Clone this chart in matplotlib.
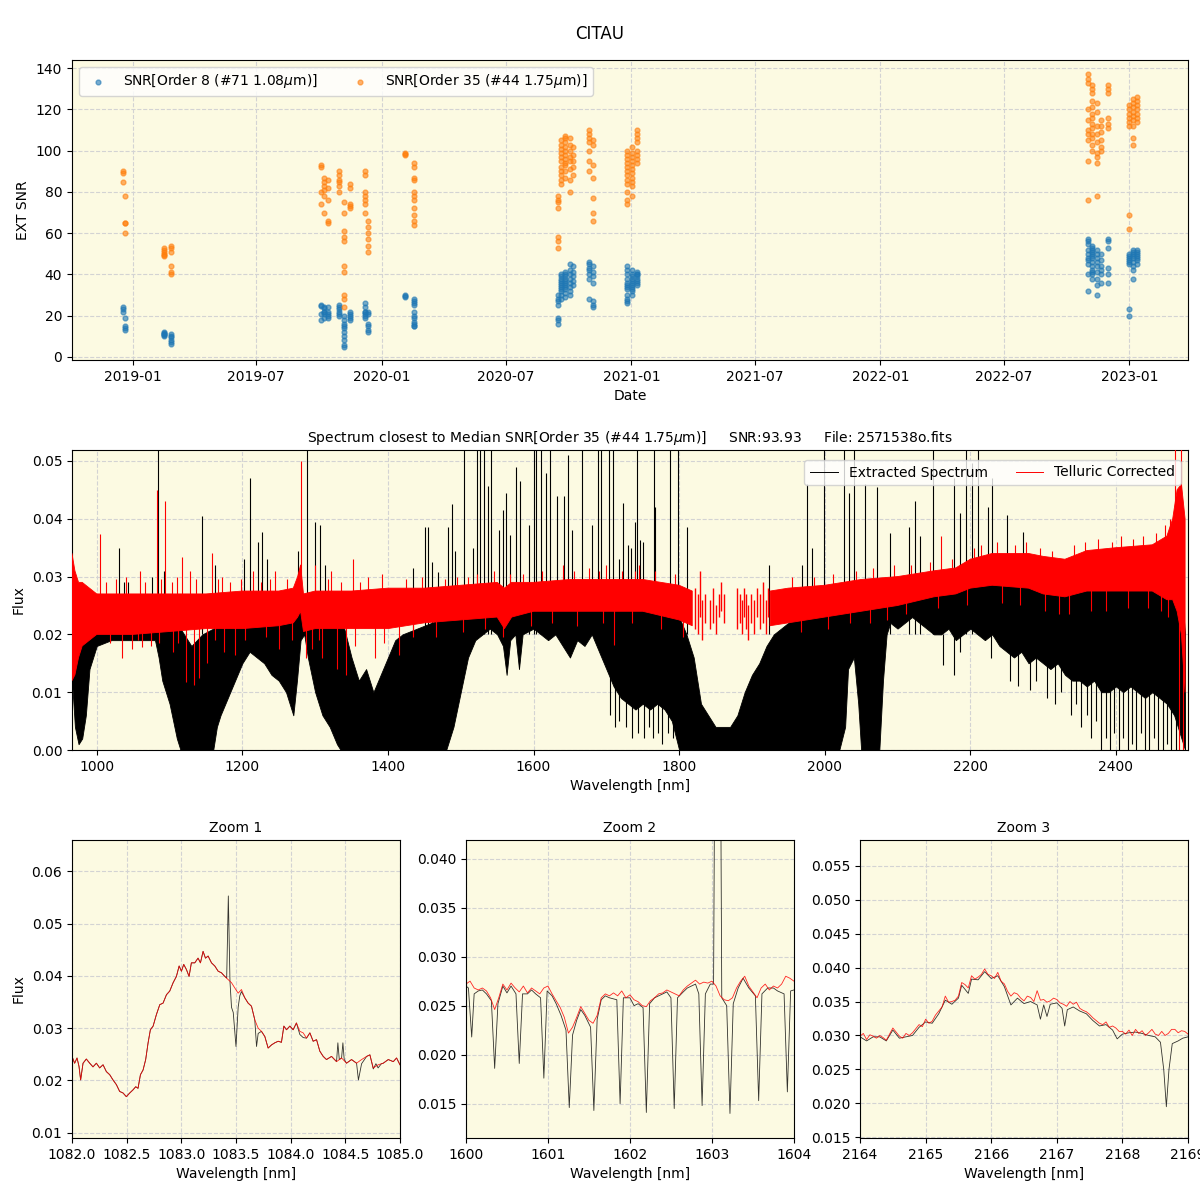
import numpy as np
import matplotlib
matplotlib.use("Agg")
import matplotlib.pyplot as plt
import matplotlib.dates as mdates
from matplotlib.lines import Line2D

nan = np.nan

# ---- SNR history (per night: several exposures) ----
nights = ['2018-12-18', '2018-12-20', '2019-02-16', '2019-02-26', '2019-10-04', '2019-10-09',
          '2019-10-15', '2019-10-30', '2019-11-07', '2019-11-15', '2019-12-07', '2019-12-12',
          '2020-02-04', '2020-02-17', '2020-09-15', '2020-09-20', '2020-09-26', '2020-10-03',
          '2020-10-08', '2020-10-31', '2020-11-06', '2020-12-26', '2021-01-02', '2021-01-09',
          '2022-11-01', '2022-11-08', '2022-11-15', '2022-11-20', '2022-12-01', '2022-12-31',
          '2023-01-06', '2023-01-12']
snr_order8 = [[24, 23, 22], [19, 15, 14, 13], [12, 11.5, 11, 10.5, 11, 10], [11, 10, 9.5, 8, 7, 6.5],
              [25, 24.5, 21, 18], [24, 23.5, 22, 22, 21, 19], [24, 22, 20, 21, 19],
              [25, 24, 23, 22, 21, 20], [20, 18, 16, 15, 14, 12, 10, 8, 6, 5], [22, 21, 20, 19, 18],
              [26, 24, 22, 21, 22, 20, 19], [16, 15, 13, 12, 22, 21], [30, 29.5, 29],
              [28, 27, 26, 25, 22, 20, 19, 17, 16, 15, 15], [30, 28, 27, 25, 18, 19, 16],
              [40, 39, 38, 37, 36, 35, 34, 33, 32, 30, 28], [41, 40, 39, 38, 37, 36, 35, 34, 33, 31, 29],
              [45, 42, 40, 38, 36, 34, 32, 30], [44, 41, 39, 37, 35], [46, 45, 43, 42, 40, 38, 28],
              [44, 41, 39, 36, 27, 25, 24], [44, 42, 40, 38, 36, 35, 34, 33, 30, 28, 27, 26],
              [42, 40, 39, 38, 37, 36, 35, 34, 33, 32, 30], [41, 40, 40, 39, 38, 37, 36, 35],
              [57, 56, 55, 52, 50, 48, 47, 45, 40, 32], [54, 53, 52, 51, 50, 49, 48, 46, 44, 42, 41, 40, 38],
              [52, 50, 48, 46, 44, 41, 38, 35, 30], [50, 47, 44, 42, 40, 36], [57, 56, 53, 43, 40, 36],
              [50, 49, 48, 47, 46, 45, 23, 20], [52, 51, 50, 49, 48, 46, 44, 42, 38],
              [52, 51, 50, 49, 48, 47, 45]]
snr_order35 = [[90, 89, 85], [78, 65, 65, 60], [53, 52, 51, 50, 49.5, 49], [54, 53, 51, 44, 41, 40],
               [93, 92, 80, 74], [87, 85, 83, 81, 78, 70], [86, 82, 76, 66, 65],
               [90, 88, 86, 85, 83, 80], [75, 70, 61, 58, 56, 44, 41, 30, 28, 24], [84, 82, 74, 73, 72],
               [90, 88, 80, 78, 76, 74, 70], [66, 63, 60, 57, 54, 51], [99, 98.5, 98],
               [94, 92, 87, 86, 80, 78, 76, 72, 69, 66, 64], [78, 76, 75, 72, 58, 56, 53],
               [105, 103, 101, 99, 97, 95, 92, 90, 88, 86, 84], [107, 106, 104, 102, 100, 98, 96, 94, 93, 90, 87],
               [106, 103, 100, 97, 95, 91, 86, 80], [102, 98, 95, 92, 88], [110, 108, 106, 104, 100, 95, 90],
               [105, 103, 93, 87, 77, 70, 66], [100, 98, 96, 94, 92, 90, 88, 86, 84, 80, 76, 74],
               [102, 99, 97, 95, 93, 91, 89, 87, 85, 83, 78], [110, 108, 106, 104, 100, 98, 96, 94],
               [137, 135, 133, 120, 115, 110, 108, 105, 95, 76],
               [132, 130, 128, 124, 121, 118, 116, 113, 111, 108, 106, 103, 100],
               [123, 119, 112, 108, 104, 99, 97, 94, 78], [115, 112, 109, 105, 102, 100],
               [132, 130, 128, 116, 113, 111], [122, 120, 118, 116, 114, 112, 69, 62],
               [125, 123, 121, 119, 117, 115, 112, 106, 103], [126, 124, 122, 120, 118, 116, 114]]

# ---- full spectrum, extracted (black): (wavelength nm, low, high) ----
blk_env = [(966, .012, .030), (970, .004, .026), (975, .001, .024), (980, .002, .023), (985, .006, .023),
           (990, .014, .024), (1000, .018, .024), (1020, .019, .025), (1050, .019, .025), (1080, .019, .025),
           (1085, .016, .024), (1090, .012, .024), (1095, .010, .023), (1100, .008, .023), (1105, .005, .022),
           (1110, .002, .022), (1115, 0, .021), (1130, 0, .018), (1145, 0, .020), (1160, 0, .021),
           (1165, .004, .022), (1170, .006, .022), (1180, .009, .023), (1190, .012, .023), (1200, .015, .024),
           (1210, .017, .024), (1220, .016, .024), (1230, .015, .024), (1240, .013, .024), (1250, .012, .024),
           (1260, .010, .024), (1265, .008, .024), (1270, .006, .025), (1275, .012, .026), (1280, .019, .027),
           (1285, .020, .025), (1290, .016, .025), (1300, .010, .024), (1310, .006, .024), (1320, .004, .023),
           (1330, .001, .022), (1335, 0, .022), (1340, 0, .021), (1350, 0, .016), (1360, 0, .012),
           (1370, 0, .014), (1380, 0, .010), (1390, 0, .013), (1400, 0, .016), (1410, 0, .019),
           (1420, 0, .020), (1440, 0, .021), (1460, 0, .022), (1480, 0, .023), (1490, .004, .024),
           (1500, .010, .024), (1510, .016, .025), (1520, .019, .025), (1530, .020, .026), (1540, .021, .026),
           (1550, .020, .026), (1558, .018, .025), (1563, .013, .025), (1568, .019, .026), (1575, .020, .026),
           (1580, .014, .026), (1585, .020, .026), (1600, .021, .026), (1610, .020, .027), (1620, .019, .027),
           (1630, .020, .027), (1640, .018, .027), (1650, .016, .027), (1660, .019, .027), (1670, .018, .027),
           (1680, .020, .027), (1690, .017, .027), (1700, .014, .027), (1710, .011, .026), (1720, .009, .026),
           (1730, .008, .026), (1740, .007, .026), (1750, .008, .025), (1760, .007, .025), (1770, .008, .025),
           (1780, .007, .024), (1790, .005, .024), (1800, 0, .023), (1810, 0, .020), (1820, 0, .016),
           (1830, 0, .008), (1850, 0, .004), (1870, 0, .004), (1880, 0, .006), (1890, 0, .010),
           (1900, 0, .013), (1910, 0, .015), (1920, 0, .018), (1930, 0, .020), (1940, 0, .021),
           (1950, 0, .022), (1960, 0, .023), (1970, 0, .024), (1980, 0, .024), (1990, 0, .024),
           (2000, 0, .025), (2010, 0, .025), (2020, 0, .025), (2028, .004, .025), (2032, .014, .025),
           (2040, .016, .026), (2046, .008, .026), (2050, 0, .026), (2060, 0, .026), (2070, 0, .026),
           (2075, 0, .026), (2080, .012, .026), (2085, .020, .026), (2090, .022, .027), (2100, .021, .027),
           (2110, .022, .027), (2120, .023, .028), (2130, .022, .028), (2140, .021, .028), (2150, .020, .028),
           (2160, .020, .028), (2170, .021, .029), (2180, .019, .029), (2190, .020, .030), (2200, .021, .030),
           (2210, .020, .031), (2220, .019, .031), (2230, .020, .031), (2240, .018, .031), (2250, .017, .031),
           (2260, .016, .031), (2270, .017, .031), (2280, .015, .031), (2290, .016, .031), (2300, .015, .031),
           (2310, .014, .030), (2320, .015, .030), (2330, .013, .029), (2340, .012, .030), (2350, .012, .030),
           (2360, .011, .030), (2370, .012, .030), (2380, .010, .030), (2390, .010, .030), (2400, .011, .030),
           (2410, .010, .030), (2420, .011, .030), (2430, .010, .030), (2440, .009, .030), (2450, .010, .030),
           (2460, .009, .030), (2470, .008, .030), (2480, .006, .030), (2490, .002, .028), (2495, 0, .020)]

# ---- full spectrum, telluric corrected (red): (wavelength nm, low, high) ----
red_env = [(966, .012, .034), (970, .013, .031), (975, .016, .029), (980, .018, .029), (990, .019, .028),
           (1000, .020, .027), (1050, .020, .027), (1100, .0205, .027), (1150, .021, .027),
           (1200, .021, .0275), (1250, .0215, .0275), (1270, .022, .028), (1276, .023, .030),
           (1280, .024, .032), (1284, .0205, .027), (1300, .021, .0275), (1350, .021, .0275),
           (1400, .021, .028), (1450, .022, .028), (1500, .0225, .0285), (1550, .023, .029),
           (1560, .021, .028), (1570, .023, .029), (1600, .024, .029), (1650, .024, .0295),
           (1700, .024, .0295), (1750, .024, .0295), (1800, .0225, .0285), (1818, .0215, .0275),
           (1819, nan, nan), (1924, nan, nan),
           (1925, .0215, .0275), (1950, .022, .028), (2000, .023, .0285), (2050, .024, .0295),
           (2100, .025, .030), (2150, .0265, .031), (2180, .027, .0315), (2200, .028, .033),
           (2230, .0285, .034), (2280, .028, .034), (2300, .027, .0335), (2330, .0265, .033),
           (2360, .0275, .0345), (2400, .0275, .035), (2450, .0275, .0355), (2470, .026, .037),
           (2478, .026, .040), (2484, .024, .045), (2490, .020, .046), (2495, .010, .040)]

# patchy red where the correction is sparse (wavelength, low, high)
red_patches = [(1822, .021, .028), (1826, .020, .027), (1829, .023, .031), (1832, .019, .026),
               (1836, .022, .027), (1843, .021, .026), (1847, .022, .028), (1850, .020, .025),
               (1855, .023, .027), (1858, .024, .029), (1862, .022, .027), (1880, .021, .028),
               (1883, .022, .027), (1886, .020, .026), (1889, .023, .028), (1892, .021, .027),
               (1895, .019, .025), (1899, .022, .027), (1903, .020, .026), (1907, .023, .028),
               (1911, .021, .027), (1915, .022, .029), (1919, .020, .026), (1922, .023, .028)]

# emission spikes and absorption dips of the extracted spectrum (wavelength, tip flux)
blk_spikes = [(1030, .035), (1037, .029), (1043, .029), (1076, .030), (1084, .060), (1092, .031),
              (1144, .0405), (1162, .032), (1202, .033), (1211, .047), (1222, .036), (1227, .0377),
              (1234, .033), (1277, .0344), (1289, .060), (1300, .0395), (1307, .039), (1314, .032),
              (1435, .0314), (1451, .0386), (1455, .0386), (1460, .0325), (1469, .0308), (1482, .0386),
              (1488, .0425), (1492, .0345), (1504, .060), (1517, .035), (1523, .060), (1527, .060),
              (1532, .060), (1538, .0456), (1542, .060), (1552, .038), (1558, .0415), (1562, .0444),
              (1568, .0372), (1576, .049), (1582, .0465), (1594, .039), (1600, .060), (1603, .060),
              (1610, .060), (1617, .048), (1622, .060), (1632, .044), (1642, .044), (1648, .051),
              (1653, .038), (1667, .060), (1680, .0389), (1688, .060), (1693, .060), (1704, .060),
              (1709, .060), (1717, .033), (1723, .0427), (1730, .0355), (1734, .035), (1740, .0395),
              (1742, .060), (1746, .0363), (1751, .036), (1765, .060), (1767, .042), (1788, .060),
              (1799, .060), (1811, .0386), (1924, .032), (1969, .032), (1976, .046), (1983, .035),
              (1999, .060), (2026, .060), (2033, .0444), (2040, .060), (2055, .046), (2072, .0455),
              (2089, .0375), (2116, .0386), (2124, .043), (2131, .037), (2149, .060), (2178, .047),
              (2186, .041), (2194, .060), (2202, .0497), (2211, .060), (2224, .042), (2230, .047),
              (2251, .0406), (2273, .0378)]
blk_dips = [(1705, .006), (1712, .004), (1718, .005), (1727, .004), (1735, .002), (1743, .003),
            (1752, .002), (1758, .004), (1764, .002), (1771, .003), (1777, .001), (1785, .003),
            (1792, .002), (2162, .0147), (2178, .013), (2186, .017), (2229, .016), (2255, .012),
            (2265, .011), (2282, .0104), (2290, .012), (2305, .009), (2316, .008), (2325, .010),
            (2338, .006), (2345, .008), (2352, .004), (2360, .006), (2366, .002), (2373, .005),
            (2380, 0), (2386, .002), (2392, 0), (2398, .003), (2404, 0), (2410, .002), (2416, 0),
            (2422, .001), (2428, 0), (2434, .003), (2440, 0), (2446, 0), (2452, .002), (2458, 0),
            (2464, 0), (2470, .001), (2476, 0), (2482, 0)]

# noise spikes / dips of the corrected spectrum (wavelength, from, to)
red_spikes = [(1005, .024, .0373), (1013, .024, .029), (1027, .024, .0295), (1040, .024, .030),
              (1060, .024, .031), (1066, .024, .029), (1083, .024, .045), (1088, .024, .0295),
              (1094, .024, .043), (1103, .024, .029), (1110, .024, .030), (1117, .024, .0334),
              (1128, .024, .031), (1136, .024, .0295), (1158, .024, .034), (1166, .024, .0295),
              (1172, .024, .030), (1183, .024, .029), (1198, .024, .0295), (1215, .024, .031),
              (1226, .024, .029), (1238, .024, .0295), (1245, .024, .031), (1262, .024, .0295),
              (1281, .026, .050), (1300, .025, .032), (1317, .025, .0295), (1322, .025, .031),
              (1336, .025, .029), (1352, .025, .033), (1362, .025, .029), (1372, .025, .030),
              (1392, .025, .0305), (1425, .025, .0295), (1447, .025, .030), (1478, .025, .0295),
              (1495, .025, .030), (1510, .026, .030), (1522, .026, .0305), (1545, .026, .031),
              (1567, .026, .0305), (1585, .026, .0305), (1612, .026, .031), (1640, .026, .032),
              (1655, .026, .031), (1676, .026, .0315), (1690, .026, .031), (1700, .026, .032),
              (1722, .026, .031), (1740, .026, .031), (1745, .026, .032), (1767, .026, .031),
              (1795, .026, .0305), (1955, .025, .030), (1985, .026, .030), (2012, .026, .0305),
              (2043, .027, .031), (2066, .027, .0315), (2095, .027, .032), (2118, .028, .032),
              (2145, .029, .0325), (2160, .029, .037), (2175, .029, .033), (2205, .031, .035),
              (2215, .031, .0355), (2236, .031, .036), (2262, .031, .0355), (2277, .031, .036),
              (2296, .031, .035), (2312, .030, .0345), (2342, .031, .0355), (2357, .031, .036),
              (2376, .031, .0365), (2394, .031, .036), (2407, .031, .037), (2423, .031, .0365),
              (2437, .031, .037), (2455, .031, .0375), (2468, .031, .039), (2474, .031, .040),
              (2481, .030, .060), (2489, .030, .060)]
red_dips = [(1018, .0185, .024), (1035, .016, .024), (1048, .0175, .024), (1056, .019, .024),
            (1062, .0178, .024), (1075, .018, .024), (1086, .0185, .024), (1105, .017, .024),
            (1112, .0185, .024), (1122, .0118, .024), (1134, .0113, .024), (1140, .0125, .024),
            (1152, .015, .024), (1163, .019, .024), (1175, .017, .024), (1190, .0165, .024),
            (1203, .019, .024), (1232, .0195, .024), (1250, .0175, .024), (1268, .019, .024),
            (1288, .016, .024), (1296, .0175, .024), (1305, .019, .024), (1310, .016, .024),
            (1330, .014, .024), (1342, .013, .024), (1355, .018, .024), (1382, .0159, .024),
            (1395, .0185, .024), (1415, .0164, .025), (1435, .0195, .025), (1466, .0195, .025),
            (1503, .0205, .026), (1533, .021, .026), (1558, .0195, .026), (1596, .0215, .026),
            (1625, .022, .027), (1660, .0215, .027), (1695, .022, .027), (1710, .0182, .027),
            (1735, .022, .027), (1775, .021, .027), (1805, .0195, .026), (1968, .0205, .025),
            (2005, .021, .026), (2035, .022, .027), (2062, .022, .027), (2085, .0225, .027),
            (2112, .0235, .028), (2156, .0245, .029), (2196, .025, .030), (2244, .0255, .031),
            (2268, .025, .031), (2302, .024, .030), (2322, .0235, .030), (2335, .0235, .030),
            (2366, .024, .031), (2386, .024, .031), (2416, .0245, .031), (2444, .0245, .031),
            (2462, .024, .031), (2472, .023, .031), (2486, 0, .030), (2492, 0, .030)]

# ---- zoom windows ----
z1_red_wl = [1082.000, 1082.024, 1082.046, 1082.064, 1082.079, 1082.101, 1082.131, 1082.162, 1082.192,
             1082.223, 1082.253, 1082.284, 1082.314, 1082.345, 1082.375, 1082.406, 1082.436, 1082.467,
             1082.497, 1082.528, 1082.558, 1082.583, 1082.604, 1082.626, 1082.650, 1082.674, 1082.696,
             1082.717, 1082.742, 1082.772, 1082.803, 1082.833, 1082.864, 1082.894, 1082.925, 1082.955,
             1082.980, 1083.001, 1083.022, 1083.047, 1083.071, 1083.092, 1083.123, 1083.153, 1083.175,
             1083.199, 1083.221, 1083.245, 1083.276, 1083.306, 1083.337, 1083.367, 1083.398, 1083.428,
             1083.459, 1083.489, 1083.520, 1083.550, 1083.581, 1083.611, 1083.642, 1083.672, 1083.703,
             1083.733, 1083.764, 1083.794, 1083.825, 1083.855, 1083.886, 1083.916, 1083.938, 1083.962,
             1083.993, 1084.023, 1084.053, 1084.084, 1084.115, 1084.145, 1084.176, 1084.206, 1084.237,
             1084.267, 1084.298, 1084.328, 1084.374, 1084.420, 1084.466, 1084.511, 1084.557, 1084.603,
             1084.649, 1084.695, 1084.725, 1084.756, 1084.801, 1084.847, 1084.893, 1084.939, 1084.969,
             1085.000]
z1_red_fl = [0.0246, 0.0233, 0.0243, 0.0227, 0.0201, 0.0233, 0.0241, 0.0233, 0.0226,
             0.0233, 0.0224, 0.0230, 0.0217, 0.0211, 0.0201, 0.0192, 0.0179, 0.0176,
             0.0169, 0.0176, 0.0182, 0.0188, 0.0185, 0.0211, 0.0220, 0.0240, 0.0272,
             0.0297, 0.0304, 0.0326, 0.0345, 0.0348, 0.0364, 0.0371, 0.0387, 0.0399,
             0.0419, 0.0409, 0.0422, 0.0412, 0.0399, 0.0425, 0.0425, 0.0434, 0.0425,
             0.0447, 0.0434, 0.0438, 0.0425, 0.0419, 0.0409, 0.0406, 0.0399, 0.0393,
             0.0387, 0.0377, 0.0367, 0.0374, 0.0358, 0.0348, 0.0342, 0.0316, 0.0300,
             0.0294, 0.0284, 0.0262, 0.0268, 0.0272, 0.0275, 0.0273, 0.0304, 0.0297,
             0.0304, 0.0297, 0.0310, 0.0294, 0.0291, 0.0281, 0.0291, 0.0275, 0.0278,
             0.0256, 0.0246, 0.0240, 0.0246, 0.0236, 0.0243, 0.0233, 0.0240, 0.0233,
             0.0240, 0.0246, 0.0249, 0.0224, 0.0230, 0.0233, 0.0240, 0.0236, 0.0243,
             0.0230]
z1_blk_wl = [1082.000, 1082.024, 1082.046, 1082.064, 1082.079, 1082.101, 1082.131, 1082.162, 1082.192,
             1082.223, 1082.253, 1082.284, 1082.314, 1082.345, 1082.375, 1082.406, 1082.436, 1082.467,
             1082.497, 1082.528, 1082.558, 1082.583, 1082.604, 1082.626, 1082.650, 1082.674, 1082.696,
             1082.717, 1082.742, 1082.772, 1082.803, 1082.833, 1082.864, 1082.894, 1082.925, 1082.955,
             1082.980, 1083.001, 1083.022, 1083.047, 1083.071, 1083.092, 1083.123, 1083.153, 1083.175,
             1083.199, 1083.221, 1083.245, 1083.276, 1083.306, 1083.337, 1083.367, 1083.398, 1083.415,
             1083.430, 1083.445, 1083.459, 1083.475, 1083.500, 1083.520, 1083.535, 1083.550, 1083.581,
             1083.611, 1083.642, 1083.672, 1083.688, 1083.703, 1083.733, 1083.764, 1083.794, 1083.825,
             1083.855, 1083.886, 1083.916, 1083.938, 1083.962, 1083.993, 1084.023, 1084.053, 1084.084,
             1084.115, 1084.145, 1084.176, 1084.206, 1084.237, 1084.267, 1084.298, 1084.328, 1084.374,
             1084.420, 1084.432, 1084.445, 1084.466, 1084.478, 1084.490, 1084.511, 1084.557, 1084.603,
             1084.620, 1084.649, 1084.695, 1084.725, 1084.756, 1084.780, 1084.800, 1084.830, 1084.847,
             1084.893, 1084.939, 1084.969, 1085.000]
z1_blk_fl = [0.0246, 0.0233, 0.0243, 0.0227, 0.0201, 0.0233, 0.0241, 0.0233, 0.0226,
             0.0233, 0.0224, 0.0230, 0.0217, 0.0211, 0.0201, 0.0192, 0.0179, 0.0176,
             0.0169, 0.0176, 0.0182, 0.0188, 0.0185, 0.0211, 0.0220, 0.0240, 0.0272,
             0.0297, 0.0304, 0.0326, 0.0345, 0.0348, 0.0364, 0.0371, 0.0387, 0.0399,
             0.0419, 0.0409, 0.0422, 0.0412, 0.0399, 0.0425, 0.0425, 0.0434, 0.0425,
             0.0447, 0.0434, 0.0438, 0.0425, 0.0419, 0.0409, 0.0406, 0.0399, 0.0396,
             0.0553, 0.0390, 0.0340, 0.0330, 0.0265, 0.0340, 0.0362, 0.0370, 0.0358,
             0.0348, 0.0342, 0.0316, 0.0265, 0.0290, 0.0294, 0.0284, 0.0262, 0.0268,
             0.0272, 0.0275, 0.0273, 0.0304, 0.0297, 0.0304, 0.0297, 0.0310, 0.0288,
             0.0282, 0.0281, 0.0291, 0.0275, 0.0278, 0.0256, 0.0246, 0.0240, 0.0246,
             0.0236, 0.0272, 0.0240, 0.0243, 0.0272, 0.0240, 0.0233, 0.0240, 0.0233,
             0.0201, 0.0232, 0.0246, 0.0249, 0.0222, 0.0232, 0.0224, 0.0232, 0.0233,
             0.0240, 0.0236, 0.0243, 0.0230]

z2_red_wl = [1600.00, 1600.05, 1600.10, 1600.15, 1600.20, 1600.25, 1600.30, 1600.35, 1600.40, 1600.45,
             1600.50, 1600.55, 1600.60, 1600.65, 1600.70, 1600.75, 1600.80, 1600.85, 1600.90, 1600.95,
             1601.00, 1601.05, 1601.10, 1601.15, 1601.20, 1601.25, 1601.30, 1601.35, 1601.40, 1601.45,
             1601.50, 1601.55, 1601.60, 1601.65, 1601.70, 1601.75, 1601.80, 1601.85, 1601.90, 1601.95,
             1602.00, 1602.05, 1602.10, 1602.15, 1602.20, 1602.25, 1602.30, 1602.35, 1602.40, 1602.45,
             1602.50, 1602.55, 1602.60, 1602.65, 1602.70, 1602.75, 1602.80, 1602.85, 1602.90, 1602.95,
             1603.00, 1603.05, 1603.10, 1603.15, 1603.20, 1603.25, 1603.30, 1603.35, 1603.40, 1603.45,
             1603.50, 1603.55, 1603.60, 1603.65, 1603.70, 1603.75, 1603.80, 1603.85, 1603.90, 1603.95,
             1604.00]
z2_red_fl = [0.0272, 0.0275, 0.0268, 0.0266, 0.0268, 0.0265, 0.0258, 0.0246, 0.0258, 0.0272,
             0.0266, 0.0273, 0.0268, 0.0264, 0.0270, 0.0263, 0.0268, 0.0265, 0.0262, 0.0268,
             0.0270, 0.0262, 0.0255, 0.0248, 0.0238, 0.0222, 0.0228, 0.0238, 0.0249, 0.0242,
             0.0235, 0.0232, 0.0240, 0.0258, 0.0262, 0.0260, 0.0263, 0.0260, 0.0265, 0.0258,
             0.0261, 0.0256, 0.0254, 0.0250, 0.0249, 0.0255, 0.0258, 0.0262, 0.0263, 0.0266,
             0.0264, 0.0262, 0.0260, 0.0266, 0.0270, 0.0273, 0.0276, 0.0272, 0.0274, 0.0273,
             0.0275, 0.0270, 0.0260, 0.0256, 0.0255, 0.0258, 0.0268, 0.0275, 0.0280, 0.0270,
             0.0264, 0.0258, 0.0268, 0.0272, 0.0266, 0.0270, 0.0268, 0.0272, 0.0280, 0.0278,
             0.0275]
z2_blk_wl = [1600.00, 1600.03, 1600.07, 1600.10, 1600.15, 1600.20, 1600.25, 1600.31, 1600.35, 1600.39,
             1600.45, 1600.50, 1600.55, 1600.61, 1600.65, 1600.69, 1600.75, 1600.80, 1600.85, 1600.91,
             1600.95, 1600.99, 1601.05, 1601.10, 1601.16, 1601.22, 1601.26, 1601.30, 1601.35, 1601.40,
             1601.45, 1601.52, 1601.56, 1601.60, 1601.65, 1601.70, 1601.75, 1601.84, 1601.88, 1601.92,
             1602.00, 1602.05, 1602.10, 1602.16, 1602.20, 1602.24, 1602.30, 1602.40, 1602.45, 1602.50,
             1602.54, 1602.58, 1602.65, 1602.70, 1602.80, 1602.84, 1602.88, 1602.92, 1602.98, 1603.02,
             1603.04, 1603.10, 1603.12, 1603.18, 1603.22, 1603.26, 1603.32, 1603.38, 1603.45, 1603.53,
             1603.57, 1603.61, 1603.68, 1603.75, 1603.80, 1603.88, 1603.92, 1603.96, 1604.00]
z2_blk_fl = [0.0270, 0.0268, 0.0218, 0.0262, 0.0265, 0.0266, 0.0262, 0.0255, 0.0186, 0.0252,
             0.0270, 0.0263, 0.0270, 0.0262, 0.0191, 0.0262, 0.0262, 0.0266, 0.0262, 0.0258,
             0.0176, 0.0265, 0.0260, 0.0252, 0.0240, 0.0225, 0.0146, 0.0220, 0.0235, 0.0246,
             0.0240, 0.0228, 0.0143, 0.0236, 0.0256, 0.0260, 0.0258, 0.0256, 0.0150, 0.0258,
             0.0258, 0.0250, 0.0252, 0.0248, 0.0141, 0.0252, 0.0258, 0.0262, 0.0264, 0.0258,
             0.0145, 0.0258, 0.0264, 0.0268, 0.0272, 0.0262, 0.0148, 0.0262, 0.0272, 0.0272,
             0.0600, 0.0600, 0.0258, 0.0250, 0.0140, 0.0252, 0.0268, 0.0278, 0.0268, 0.0260,
             0.0153, 0.0262, 0.0268, 0.0268, 0.0265, 0.0262, 0.0162, 0.0265, 0.0266]

z3_red_wl = [2164.00, 2164.05, 2164.10, 2164.15, 2164.20, 2164.25, 2164.30, 2164.35, 2164.40, 2164.45,
             2164.50, 2164.55, 2164.60, 2164.65, 2164.70, 2164.75, 2164.80, 2164.85, 2164.90, 2164.95,
             2165.00, 2165.05, 2165.10, 2165.15, 2165.20, 2165.25, 2165.30, 2165.35, 2165.40, 2165.45,
             2165.50, 2165.55, 2165.60, 2165.65, 2165.70, 2165.75, 2165.80, 2165.85, 2165.90, 2165.95,
             2166.00, 2166.05, 2166.10, 2166.15, 2166.20, 2166.25, 2166.30, 2166.35, 2166.40, 2166.45,
             2166.50, 2166.55, 2166.60, 2166.65, 2166.70, 2166.75, 2166.80, 2166.85, 2166.90, 2166.95,
             2167.00, 2167.05, 2167.10, 2167.15, 2167.20, 2167.25, 2167.30, 2167.35, 2167.40, 2167.45,
             2167.50, 2167.55, 2167.60, 2167.65, 2167.70, 2167.75, 2167.80, 2167.85, 2167.90, 2167.95,
             2168.00, 2168.05, 2168.10, 2168.15, 2168.20, 2168.25, 2168.30, 2168.35, 2168.40, 2168.45,
             2168.50, 2168.55, 2168.60, 2168.65, 2168.70, 2168.75, 2168.80, 2168.85, 2168.90, 2168.95,
             2169.00]
z3_red_fl = [0.0299, 0.0303, 0.0294, 0.0301, 0.0299, 0.0296, 0.0300, 0.0297, 0.0293, 0.0302,
             0.0311, 0.0305, 0.0299, 0.0296, 0.0303, 0.0300, 0.0304, 0.0310, 0.0316, 0.0313,
             0.0324, 0.0318, 0.0321, 0.0330, 0.0336, 0.0342, 0.0358, 0.0349, 0.0350, 0.0352,
             0.0358, 0.0378, 0.0375, 0.0370, 0.0388, 0.0383, 0.0386, 0.0390, 0.0398, 0.0390,
             0.0388, 0.0384, 0.0393, 0.0380, 0.0376, 0.0365, 0.0358, 0.0363, 0.0361, 0.0355,
             0.0351, 0.0358, 0.0356, 0.0350, 0.0366, 0.0352, 0.0353, 0.0349, 0.0351, 0.0355,
             0.0353, 0.0348, 0.0346, 0.0343, 0.0350, 0.0346, 0.0349, 0.0340, 0.0337, 0.0335,
             0.0331, 0.0326, 0.0322, 0.0318, 0.0316, 0.0320, 0.0312, 0.0314, 0.0311, 0.0306,
             0.0306, 0.0302, 0.0308, 0.0300, 0.0309, 0.0303, 0.0307, 0.0300, 0.0304, 0.0309,
             0.0302, 0.0300, 0.0306, 0.0300, 0.0303, 0.0309, 0.0309, 0.0304, 0.0307, 0.0306,
             0.0302]
z3_blk_wl = [2164.00, 2164.10, 2164.20, 2164.30, 2164.40, 2164.50, 2164.60, 2164.70, 2164.80, 2164.90,
             2165.00, 2165.10, 2165.20, 2165.30, 2165.40, 2165.50, 2165.55, 2165.65, 2165.70, 2165.80,
             2165.90, 2166.00, 2166.10, 2166.20, 2166.30, 2166.40, 2166.50, 2166.60, 2166.70, 2166.75,
             2166.80, 2166.85, 2166.90, 2167.00, 2167.08, 2167.12, 2167.16, 2167.25, 2167.35, 2167.45,
             2167.55, 2167.65, 2167.75, 2167.85, 2167.92, 2168.00, 2168.10, 2168.20, 2168.30, 2168.40,
             2168.50, 2168.58, 2168.63, 2168.67, 2168.71, 2168.76, 2168.85, 2168.92, 2169.00]
z3_blk_fl = [0.0298, 0.0292, 0.0298, 0.0298, 0.0292, 0.0308, 0.0296, 0.0298, 0.0300, 0.0312,
             0.0320, 0.0318, 0.0332, 0.0352, 0.0346, 0.0355, 0.0374, 0.0362, 0.0383, 0.0382,
             0.0394, 0.0384, 0.0388, 0.0372, 0.0345, 0.0355, 0.0347, 0.0350, 0.0345, 0.0324,
             0.0345, 0.0328, 0.0346, 0.0348, 0.0340, 0.0314, 0.0338, 0.0342, 0.0336, 0.0332,
             0.0322, 0.0314, 0.0316, 0.0308, 0.0295, 0.0302, 0.0304, 0.0305, 0.0303, 0.0300,
             0.0298, 0.0290, 0.0250, 0.0195, 0.0250, 0.0288, 0.0292, 0.0296, 0.0298]

zoom_xlims = [(1082, 1085), (1600, 1604), (2164, 2169)]
zoom_ylims = [(0.009, 0.066), (0.0115, 0.0419), (0.0149, 0.0588)]

bg = '#fcfae2'
fig = plt.figure(figsize=(12, 12), dpi=100)
fig.suptitle("CITAU", y=0.979, fontsize=12)

# ---- top: SNR vs date ----
ax1 = fig.add_axes([0.06, 0.70, 0.93, 0.25])
ax1.set_facecolor(bg)
d8, s8, d35, s35 = [], [], [], []
for n, a, b in zip(nights, snr_order8, snr_order35):
    d8 += [np.datetime64(n)] * len(a)
    s8 += a
    d35 += [np.datetime64(n)] * len(b)
    s35 += b
ax1.scatter(d8, s8, s=12, alpha=0.6, color='C0', label=r'SNR[Order 8 (#71 1.08$\mu$m)]', zorder=3)
ax1.scatter(d35, s35, s=12, alpha=0.6, color='C1', label=r'SNR[Order 35 (#44 1.75$\mu$m)]', zorder=3)
ax1.set_xlim(np.datetime64('2018-10-04'), np.datetime64('2023-03-28'))
ax1.set_ylim(-1.5, 144)
ax1.xaxis.set_major_locator(mdates.MonthLocator(bymonth=[1, 7]))
ax1.xaxis.set_major_formatter(mdates.DateFormatter('%Y-%m'))
ax1.set_xlabel("Date")
ax1.set_ylabel("EXT SNR")
ax1.grid(True, ls='--', color='lightgray')
ax1.legend(loc='upper left', ncol=2)

# ---- middle: whole spectrum ----
bw, bl, bh = np.array(blk_env).T
rw, rl, rh = np.array(red_env).T
ax2 = fig.add_axes([0.06, 0.375, 0.93, 0.25])
ax2.set_facecolor(bg)
ax2.fill_between(bw, bl, bh, color='black', lw=0.6, zorder=2)
sw, st = np.array(blk_spikes).T
ax2.vlines(sw, 0.02, st, color='black', lw=0.8, zorder=2)
dw, db = np.array(blk_dips).T
ax2.vlines(dw, db, 0.02, color='black', lw=0.8, zorder=2)
ax2.fill_between(rw, rl, rh, color='red', lw=0.6, zorder=3)
pw, pl, ph = np.array(red_patches).T
ax2.vlines(pw, pl, ph, color='red', lw=1.0, zorder=3)
sw, sb, st = np.array(red_spikes).T
ax2.vlines(sw, sb, st, color='red', lw=0.8, zorder=3)
dw, db, dt = np.array(red_dips).T
ax2.vlines(dw, db, dt, color='red', lw=0.8, zorder=3)
ax2.set_xlim(966, 2499)
ax2.set_ylim(0, 0.0519)
ax2.set_xlabel("Wavelength [nm]")
ax2.set_ylabel("Flux")
ax2.set_title(r"Spectrum closest to Median SNR[Order 35 (#44 1.75$\mu$m)]     SNR:93.93     File: 2571538o.fits",
              fontsize=10)
ax2.grid(True, ls='--', color='lightgray', zorder=0)
ax2.set_axisbelow(True)
handles = [Line2D([], [], color='black', lw=0.7), Line2D([], [], color='red', lw=0.7)]
ax2.legend(handles, ['Extracted Spectrum', 'Telluric Corrected'], loc='upper right', ncol=2,
           bbox_to_anchor=(1.0, 0.99))

# ---- bottom: zooms ----
zooms = [(z1_blk_wl, z1_blk_fl, z1_red_wl, z1_red_fl),
         (z2_blk_wl, z2_blk_fl, z2_red_wl, z2_red_fl),
         (z3_blk_wl, z3_blk_fl, z3_red_wl, z3_red_fl)]
lefts = [0.06, 0.3883, 0.7167]
for i, (zbw, zbf, zrw, zrf) in enumerate(zooms):
    ax = fig.add_axes([lefts[i], 0.0517, 0.2733, 0.2483])
    ax.set_facecolor(bg)
    ax.plot(zbw, zbf, color='black', lw=0.6, alpha=0.8)
    ax.plot(zrw, zrf, color='red', lw=0.6, alpha=0.85)
    ax.set_xlim(*zoom_xlims[i])
    ax.set_ylim(*zoom_ylims[i])
    ax.set_title("Zoom %d" % (i + 1), fontsize=10)
    ax.set_xlabel("Wavelength [nm]")
    if i == 0:
        ax.set_ylabel("Flux")
    ax.grid(True, ls='--', color='lightgray')

fig.savefig("out.png", dpi=100)
